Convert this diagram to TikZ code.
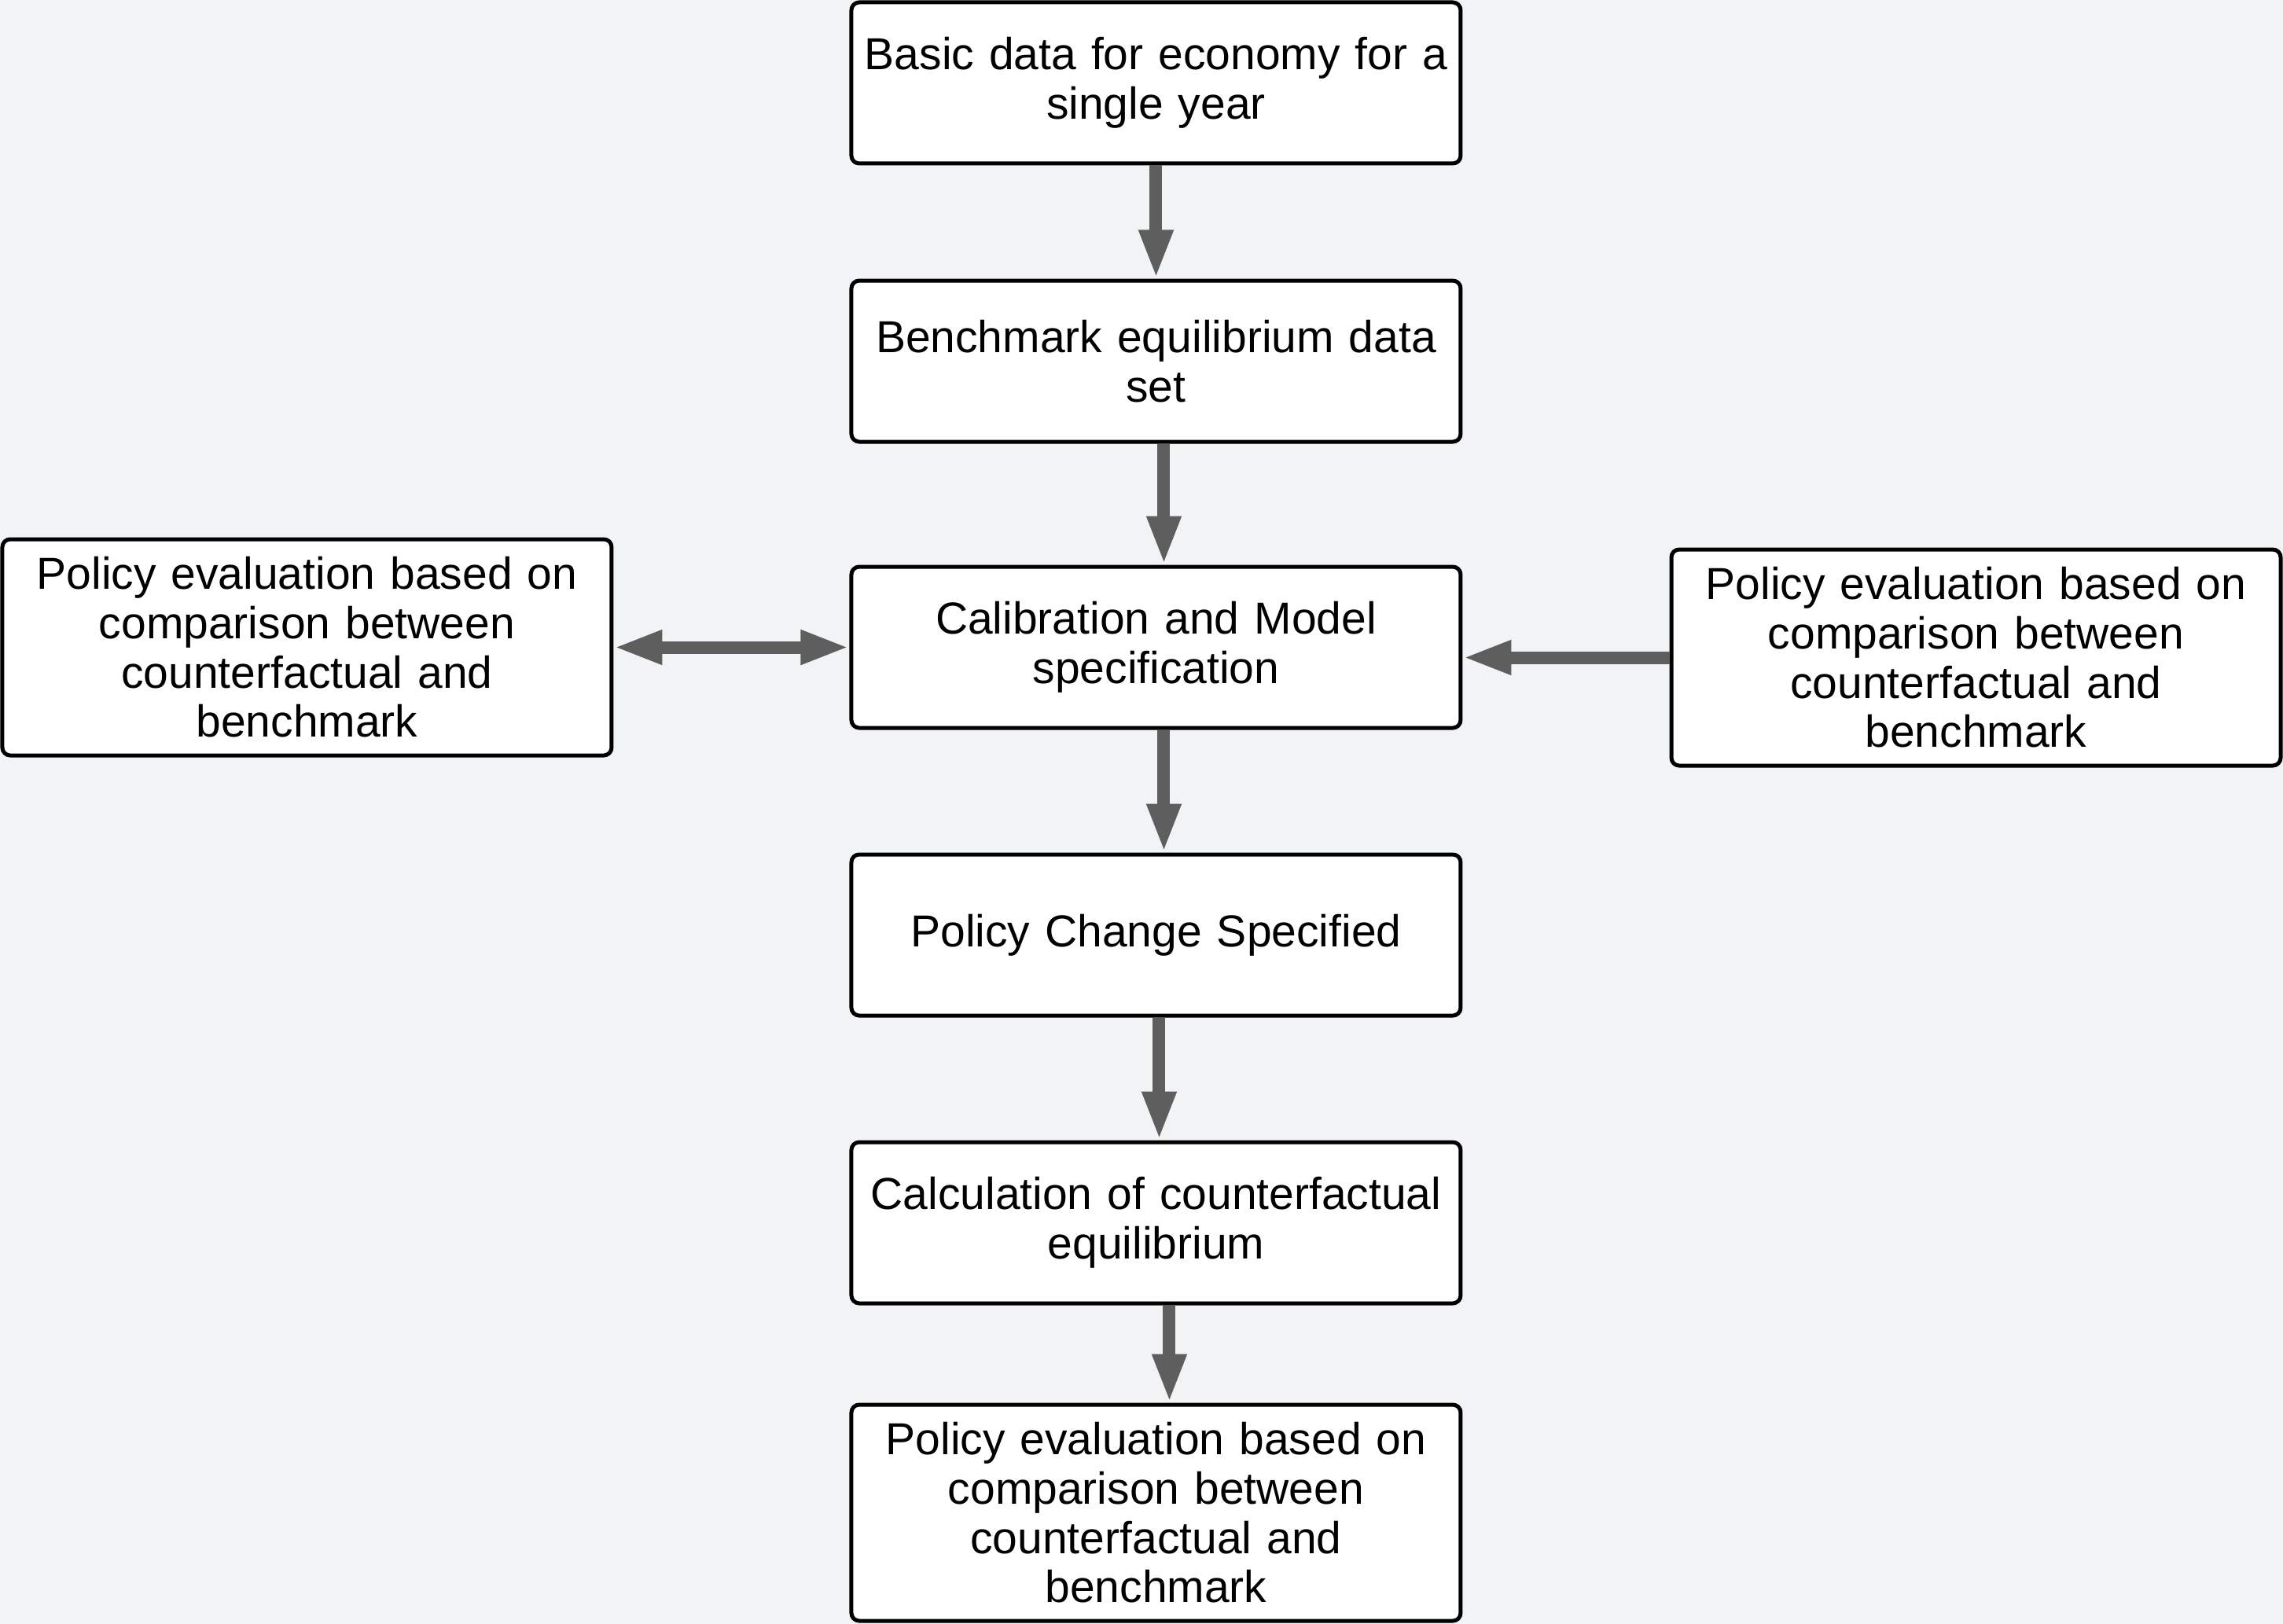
\documentclass[tikz,border=0pt]{standalone}
\usepackage{fontspec}
\setmainfont{Liberation Sans}
\usetikzlibrary{positioning}
\usetikzlibrary{arrows.meta}
\definecolor{bggray}{HTML}{F2F3F5}
\definecolor{arrowgray}{HTML}{5E5E5E}
\tikzstyle{box} = [rectangle, rounded corners=5pt, fill=white, draw=black, line width=2.5pt, minimum width=387.5pt, minimum height=102.5pt, inner sep=0pt, text width=380pt, align=center, font=\fontsize{28.5pt}{31.3pt}\selectfont]
\tikzstyle{flow} = [draw=arrowgray, line width=8pt, -{Triangle[length=31pt, width=20pt]}]

\begin{document}
\begin{tikzpicture}[tallbox/.style={box, minimum height=137.5pt}]
\useasboundingbox[fill=bggray] (-735.25pt,52.75pt) rectangle (716.75pt,-980.25pt);

% Define nodes
\node[box]                                  (basic)   {Basic data for economy for a\\ single year};
\node[box, below = 72pt of basic]           (bench)   {Benchmark equilibrium data\\ set};
\node[box, below = 77pt of bench]           (calib)   {Calibration and Model\\ specification};
\node[box, below = 78pt of calib]           (policy)  {Policy Change Specified};
\node[box, below = 78pt of policy]          (counter) {Calculation of counterfactual\\ equilibrium};
\node[tallbox, below = 62pt of counter]     (evalb)   {Policy evaluation based on\\ comparison between\\ counterfactual and\\ benchmark};

\node[tallbox, left = 150pt of calib]               (evall) {Policy evaluation based on\\ comparison between\\ counterfactual and\\ benchmark};
\node[tallbox, right = 131.5pt of calib, yshift=-6.5pt] (evalr) {Policy evaluation based on\\ comparison between\\ counterfactual and\\ benchmark};

% Edges
\draw[flow] (basic) -- (bench);
\draw[flow] ([xshift=5pt]bench.south) -- ([xshift=5pt]calib.north);
\draw[flow] ([xshift=5pt]calib.south) -- ([xshift=5pt]policy.north);
\draw[flow] ([xshift=2pt]policy.south) -- ([xshift=2pt]counter.north);
\draw[flow] ([xshift=8.5pt]counter.south) -- ([xshift=8.5pt]evalb.north);
\draw[flow, {Triangle[length=31pt, width=20pt]}-{Triangle[length=31pt, width=20pt]}] (evall) -- (calib);
\draw[flow] (evalr.west) -- (evalr.west -| calib.east);
\end{tikzpicture}
\end{document}
